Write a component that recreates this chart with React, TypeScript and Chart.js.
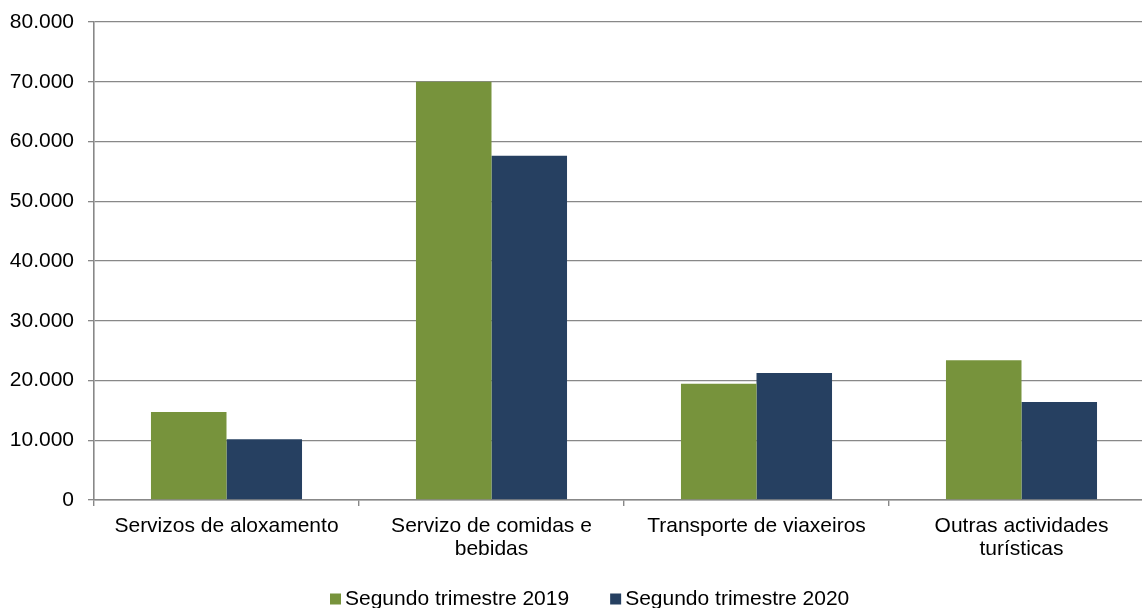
import React, { useEffect, useRef } from "react";
import { Chart, registerables } from "chart.js";

Chart.register(...registerables);

const categories: (string | string[])[] = [
  "Servizos de aloxamento",
  ["Servizo de comidas e", "bebidas"],
  "Transporte de viaxeiros",
  ["Outras actividades", "turísticas"],
];
const series2019Label = "Segundo trimestre 2019";
const series2020Label = "Segundo trimestre 2020";
const series2019 = [14730, 70000, 19460, 23380];
const series2020 = [10160, 57620, 21260, 16400];
const yMin = 0;
const yMax = 80000;
const yStep = 10000;

const GREEN = "#77933C";
const BLUE = "#264061";
const GRID = "#888888";
const FONT = "'Liberation Sans', Arial, sans-serif";

function fmt(v: number): string {
  const s = Math.round(v).toString();
  return s.replace(/\B(?=(\d{3})+(?!\d))/g, ".");
}

const legendPlugin = {
  id: "customLegend",
  afterDraw(chart: any) {
    const ctx = chart.ctx;
    ctx.save();
    ctx.font = `21px ${FONT}`;
    ctx.textBaseline = "middle";
    ctx.textAlign = "left";
    const cy = 599;
    let x = 330;
    const box = 11;
    chart.data.datasets.forEach((ds: any) => {
      ctx.fillStyle = ds.backgroundColor;
      ctx.fillRect(x, cy - box / 2, box, box);
      ctx.fillStyle = "#000";
      ctx.fillText(ds.label, x + box + 4, cy);
      x += box + 4 + ctx.measureText(ds.label).width + 41;
    });
    ctx.restore();
  },
};

export default function App() {
  const ref = useRef<HTMLCanvasElement>(null);
  useEffect(() => {
    if (!ref.current) return;
    const chart = new Chart(ref.current, {
      type: "bar",
      data: {
        labels: categories,
        datasets: [
          { label: series2019Label, data: series2019, backgroundColor: GREEN },
          { label: series2020Label, data: series2020, backgroundColor: BLUE },
        ],
      },
      options: {
        animation: false,
        responsive: false,
        devicePixelRatio: 1,
        layout: { padding: { top: 22, left: 0, right: 6, bottom: 0 } },
        plugins: {
          legend: { display: false },
          tooltip: { enabled: false },
        },
        datasets: {
          bar: { categoryPercentage: 0.57, barPercentage: 1 },
        },
        scales: {
          x: {
            grid: {
              offset: true,
              drawOnChartArea: false,
              drawTicks: true,
              tickLength: 6,
              color: GRID,
              lineWidth: 1.4,
            },
            border: { color: GRID, width: 1.6 },
            ticks: {
              color: "#000",
              font: { family: FONT, size: 21, lineHeight: 1.1 },
              padding: 9,
              maxRotation: 0,
              autoSkip: false,
            },
            afterFit(scale: any) {
              scale.height = 108;
              scale.paddingLeft = 0;
              scale.paddingRight = 0;
            },
          },
          y: {
            min: yMin,
            max: yMax,
            grid: { color: GRID, tickLength: 6, drawTicks: true, lineWidth: 1.3 },
            border: { color: GRID, width: 1.6 },
            ticks: {
              stepSize: yStep,
              color: "#000",
              font: { family: FONT, size: 21 },
              padding: 14,
              callback: (v: any) => fmt(Number(v)),
            },
            afterFit(scale: any) {
              scale.width = 94;
              scale.paddingTop = 0;
              scale.paddingBottom = 0;
            },
          },
        },
      },
      plugins: [legendPlugin],
    } as any);
    return () => chart.destroy();
  }, []);
  return (
    <div
      style={{
        position: "fixed",
        left: 0,
        top: 0,
        width: 1142,
        height: 608,
        overflow: "hidden",
        background: "#fff",
      }}
    >
      <canvas ref={ref} width={1160} height={608} style={{ display: "block" }} />
    </div>
  );
}
